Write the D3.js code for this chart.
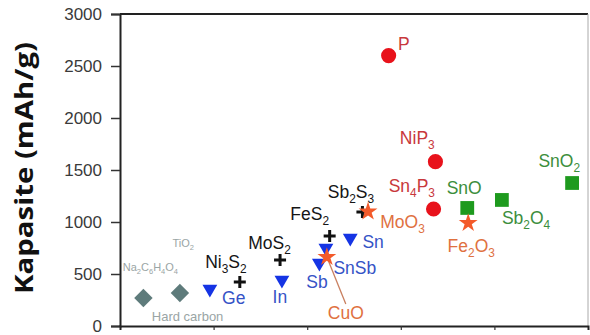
<!DOCTYPE html>
<html><head><meta charset="utf-8">
<script src="https://cdn.jsdelivr.net/npm/d3@7"></script>
<style>body{margin:0;background:#fff}svg{display:block}</style>
</head><body>
<svg id="c" width="590" height="335"></svg>
<script>
// ---- data ----
const materials = ["Na2C6H4O4","HardC","Ge","Ni3S2","MoS2","In","Sb","SnSb","CuO","FeS2","Sn","Sb2S3","MoO3","P","NiP3","Sn4P3","SnO","Fe2O3","Sb2O4","SnO2"];
const xPos      = [0.25, 0.64, 0.96, 1.28, 1.71, 1.73, 2.13, 2.20, 2.21, 2.24, 2.46, 2.59, 2.65, 2.87, 3.37, 3.35, 3.71, 3.72, 4.08, 4.83];
const capacity  = [270, 317, 356, 423, 635, 442, 606, 750, 663, 865, 846, 1096, 1100, 2600, 1580, 1125, 1135, 990, 1212, 1375];
const group     = ["diamond","diamond","tri","plus","plus","tri","tri","tri","star","plus","tri","plus","star","circle","circle","circle","square","star","square","square"];

// labels ("_" marks a subscript digit), anchored at data coordinates
const labelText = ["P","NiP_3","Sn_4P_3","SnO","Fe_2O_3","Sb_2O_4","SnO_2","MoO_3","Sb_2S_3","FeS_2","Sn","SnSb","Sb","CuO","MoS_2","In","Ni_3S_2","Ge","TiO_2","Na_2C_6H_4O_4","Hard carbon"];
const labelX    = [2.97, 2.99, 2.87, 3.49, 3.50, 4.08, 4.47, 2.78, 2.22, 1.82, 2.59, 2.28, 1.99, 2.22, 1.37, 1.63, 0.91, 1.09, 0.56, 0.03, 0.34];
const labelY    = [2654, 1750, 1288, 1269, 712, 981, 1529, 942, 1231, 1019, 750, 500, 365, 67, 740, 221, 558, 212, 760, 529, 48];
const labelGroup= ["circle","circle","circle","square","star","square","square","star","plus","plus","tri","tri","tri","star","plus","tri","plus","tri","small","small","small2"];

const yTicks = [0, 500, 1000, 1500, 2000, 2500, 3000];
const xTicks = [1, 2, 3, 4];

// ---- styles ----
const fillColor = {circle:"#e8121b", square:"#1e9a1e", tri:"#1534e4", star:"#f35a2a", plus:"#111", diamond:"#5e7b7b"};
const labelColor = {circle:"#c8383c", square:"#3c8e3c", tri:"#3553c6", star:"#e0713f", plus:"#151515", small:"#9aa5a5", small2:"#9aa5a5"};
const labelSize = {circle:17.5, square:17.5, tri:17.5, star:17.5, plus:17.5, small:11, small2:13};

const svg = d3.select("#c");
const L = 120, R = 588, T = 14, B = 326;
const x = d3.scaleLinear().domain([0, 5]).range([L, R]);
const y = d3.scaleLinear().domain([0, 3000]).range([B, T]);

// frame top/right
svg.append("line").attr("x1", L).attr("x2", R).attr("y1", T).attr("y2", T).attr("stroke", "#222").attr("stroke-width", 2);
svg.append("line").attr("x1", R).attr("x2", R).attr("y1", T).attr("y2", B).attr("stroke", "#aaa").attr("stroke-width", 1);

// axes
const yAxis = svg.append("g").attr("transform", `translate(${L},0)`)
  .call(d3.axisLeft(y).tickValues(yTicks).tickSize(9).tickPadding(9).tickFormat(d3.format("d")));
yAxis.select(".domain").attr("stroke", "#222").attr("stroke-width", 2);
yAxis.selectAll(".tick line").attr("stroke", "#333").attr("stroke-width", 1.5);
yAxis.selectAll("text").attr("font-family", "Liberation Sans, Arial, sans-serif").attr("font-size", 17).attr("fill", "#3a3a3a");

const xAxis = svg.append("g").attr("transform", `translate(0,${B})`)
  .call(d3.axisBottom(x).tickValues(xTicks).tickSize(4).tickFormat(""));
xAxis.select(".domain").attr("stroke", "#222").attr("stroke-width", 2);
xAxis.selectAll(".tick line").attr("stroke", "#333").attr("stroke-width", 1.2);

// y label
svg.append("text")
  .attr("transform", `translate(33,168) rotate(-90)`)
  .attr("text-anchor", "middle")
  .attr("font-family", "Open Sans, Liberation Sans, sans-serif")
  .attr("font-weight", "bold").attr("font-size", 25).attr("fill", "#111")
  .attr("textLength", 252).attr("lengthAdjust", "spacingAndGlyphs")
  .text("Kapasite (mAh/g)");

// CuO leader line
const cuoIdx = materials.indexOf("CuO");
const cuoLab = labelText.indexOf("CuO");
svg.append("line")
  .attr("x1", x(xPos[cuoIdx])).attr("y1", y(capacity[cuoIdx]))
  .attr("x2", x(labelX[cuoLab]) + 18).attr("y2", y(labelY[cuoLab]) - 15)
  .attr("stroke", "#c98060").attr("stroke-width", 1.3);

// markers
const pts = materials.map((m, i) => ({m, x: xPos[i], y: capacity[i], g: group[i]}));
const gm = svg.append("g");
pts.forEach(p => {
  const cx = x(p.x), cy = y(p.y);
  if (p.g === "plus") {
    const a = 6;
    gm.append("path").attr("d", `M${cx - a},${cy}H${cx + a}M${cx},${cy - a}V${cy + a}`)
      .attr("stroke", "#111").attr("stroke-width", 3);
    return;
  }
  let sym, size, rot = 0;
  if (p.g === "circle") { sym = d3.symbolCircle; size = 180; }
  else if (p.g === "square") { sym = d3.symbolSquare; size = 190; }
  else if (p.g === "tri") { sym = d3.symbolTriangle; size = 95; rot = 180; }
  else if (p.g === "star") { sym = d3.symbolStar; size = 110; }
  else if (p.g === "diamond") { sym = d3.symbolSquare; size = 170; rot = 45; }
  gm.append("path")
    .attr("d", d3.symbol().type(sym).size(size)())
    .attr("transform", `translate(${cx},${cy}) rotate(${rot})`)
    .attr("fill", fillColor[p.g]);
});

// labels
labelText.forEach((t, i) => {
  const g = labelGroup[i];
  const fs = labelSize[g];
  const txt = svg.append("text")
    .attr("x", x(labelX[i])).attr("y", y(labelY[i]))
    .attr("font-family", "Liberation Sans, Arial, sans-serif")
    .attr("font-size", fs).attr("fill", labelColor[g]);
  const parts = t.split(/(_\d)/).filter(s => s.length);
  let shift = 0;
  parts.forEach(s => {
    if (s[0] === "_") {
      txt.append("tspan").attr("font-size", fs * 0.68).attr("dy", fs * 0.3 - shift).text(s.slice(1));
      shift = fs * 0.3;
    } else {
      txt.append("tspan").attr("dy", -shift).text(s);
      shift = 0;
    }
  });
});
</script>
</body></html>
